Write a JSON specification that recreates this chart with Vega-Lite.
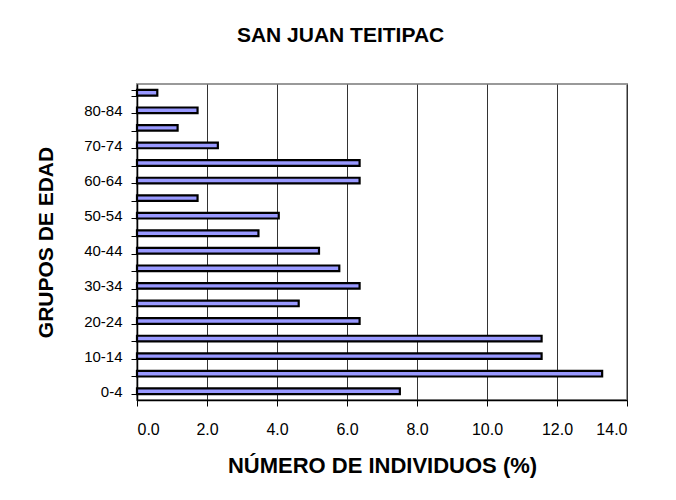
{
  "$schema": "https://vega.github.io/schema/vega-lite/v6.json",
  "autosize": {"type": "none"},
  "width": 490,
  "height": 316,
  "padding": {"left": 137, "top": 84, "right": 49, "bottom": 100},
  "background": "white",
  "title": {
    "text": "SAN JUAN TEITIPAC",
    "font": "Liberation Sans",
    "fontSize": 21,
    "fontWeight": "bold",
    "color": "black",
    "anchor": "middle",
    "frame": "bounds",
    "offset": 31,
    "dx": 9
  },
  "data": {
    "values": [
      {"grupo": "0-4", "pct": 7.51},
      {"grupo": "5-9", "pct": 13.29},
      {"grupo": "10-14", "pct": 11.56},
      {"grupo": "15-19", "pct": 11.56},
      {"grupo": "20-24", "pct": 6.36},
      {"grupo": "25-29", "pct": 4.62},
      {"grupo": "30-34", "pct": 6.36},
      {"grupo": "35-39", "pct": 5.78},
      {"grupo": "40-44", "pct": 5.2},
      {"grupo": "45-49", "pct": 3.47},
      {"grupo": "50-54", "pct": 4.05},
      {"grupo": "55-59", "pct": 1.73},
      {"grupo": "60-64", "pct": 6.36},
      {"grupo": "65-69", "pct": 6.36},
      {"grupo": "70-74", "pct": 2.31},
      {"grupo": "75-79", "pct": 1.16},
      {"grupo": "80-84", "pct": 1.73},
      {"grupo": "85+", "pct": 0.58}
    ]
  },
  "mark": {"type": "bar", "fill": "#9999ff", "stroke": "black", "strokeWidth": 2.2},
  "encoding": {
    "y": {
      "field": "grupo",
      "type": "nominal",
      "sort": ["85+", "80-84", "75-79", "70-74", "65-69", "60-64", "55-59", "50-54", "45-49", "40-44", "35-39", "30-34", "25-29", "20-24", "15-19", "10-14", "5-9", "0-4"],
      "scale": {"paddingInner": 0.68, "paddingOuter": 0.34},
      "axis": {
        "title": "GRUPOS DE EDAD",
        "titleFont": "Liberation Sans",
        "titleFontSize": 21,
        "titleFontWeight": "bold",
        "titleColor": "black",
        "titlePadding": 27,
        "labelFont": "Liberation Sans",
        "labelFontSize": 15,
        "labelColor": "black",
        "labelPadding": 9,
        "labelExpr": "indexof(['0-4','10-14','20-24','30-34','40-44','50-54','60-64','70-74','80-84'], datum.value) >= 0 ? datum.value : ''",
        "tickBand": "extent",
        "tickSize": 6,
        "tickColor": "black",
        "domainColor": "black",
        "domainWidth": 1.5,
        "grid": false
      }
    },
    "x": {
      "field": "pct",
      "type": "quantitative",
      "scale": {"domain": [0, 14], "nice": false},
      "axis": {
        "title": "NÚMERO DE INDIVIDUOS (%)",
        "titleFont": "Liberation Sans",
        "titleFontSize": 22,
        "titleFontWeight": "bold",
        "titleColor": "black",
        "titlePadding": 18,
        "values": [0, 2, 4, 6, 8, 10, 12, 14],
        "format": ".1f",
        "labelFont": "Liberation Sans",
        "labelFontSize": 16,
        "labelColor": "black",
        "labelPadding": 15,
        "tickSize": 6,
        "tickColor": "black",
        "domainColor": "black",
        "domainWidth": 1.5,
        "grid": true,
        "gridColor": "#333333",
        "gridWidth": 1
      }
    }
  },
  "config": {
    "view": {"stroke": "#999999", "strokeWidth": 2}
  }
}
